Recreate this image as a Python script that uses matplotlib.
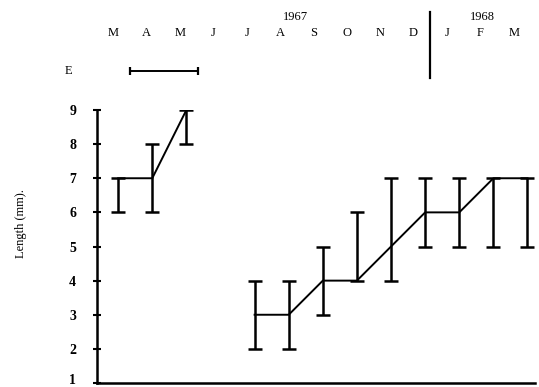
import numpy as np
import matplotlib.pyplot as plt
import matplotlib.transforms as mtransforms

plt.rcParams['font.family'] = ['Liberation Serif', 'DejaVu Serif']

months = ['M', 'A', 'M', 'J', 'J', 'A', 'S', 'O', 'N', 'D', 'J', 'F', 'M']
# month index (0 = March 1967) of each sample, June has none
month_idx = [0, 1, 2, 4, 5, 6, 7, 8, 9, 10, 11, 12]
length = [7, 7, 9, 3, 3, 4, 4, 5, 6, 6, 7, 7]
low = [6, 6, 8, 2, 2, 3, 4, 4, 5, 5, 5, 5]
high = [7, 8, 9, 4, 4, 5, 6, 7, 7, 7, 7, 7]
yticks = [1, 2, 3, 4, 5, 6, 7, 8, 9]

x = np.array(month_idx)
y = np.array(length)
yerr = [y - np.array(low), np.array(high) - y]

fig = plt.figure(figsize=(5.39, 3.87), dpi=100)
ax = fig.add_axes([97 / 539, 4 / 387, 438 / 539, 273 / 387])

# line broken where June is missing
first = x < 3
ax.plot(x[first], y[first], color='black', lw=1.4)
ax.plot(x[~first], y[~first], color='black', lw=1.4)
ax.errorbar(x, y, yerr=yerr, fmt='none', ecolor='black', elinewidth=1.8,
            capsize=4.7, capthick=1.8)

ax.set_xlim(-0.62, 12.22)
ax.set_ylim(1, 9)
ax.set_yticks(yticks)
ax.set_yticklabels([str(v) for v in yticks], fontsize=10, fontweight='bold')
ax.tick_params(axis='y', direction='inout', length=6, width=1.5, pad=12)
# lift the bottom "1" so it stays inside the picture
lbl = ax.get_yticklabels()[0]
lbl.set_transform(lbl.get_transform() +
                  mtransforms.ScaledTranslation(0, 3 / 72, fig.dpi_scale_trans))
ax.set_xticks([])
for s in ['top', 'right']:
    ax.spines[s].set_visible(False)
for s in ['left', 'bottom']:
    ax.spines[s].set_linewidth(1.8)

ax.set_ylabel('Length (mm).', fontsize=9)
ax.yaxis.set_label_coords(-0.16, 0.586)

# month labels above the plot
label_x = np.linspace(-0.15, 11.6, len(months))
for lx, m in zip(label_x, months):
    ax.text(lx, 11.26, m, ha='center', va='center', fontsize=9, clip_on=False)
ax.text(5.2, 11.73, '1967', ha='center', va='center', fontsize=9, clip_on=False)
ax.text(10.67, 11.73, '1968', ha='center', va='center', fontsize=9, clip_on=False)
ax.plot([9.15, 9.15], [9.94, 11.87], color='black', lw=1.6, clip_on=False)

# E period bar
ax.text(-1.47, 10.14, 'E', ha='center', va='center', fontsize=9, clip_on=False)
ax.errorbar([1.35], [10.14], xerr=[[1.0], [1.0]], fmt='none', ecolor='black',
            elinewidth=1.4, capsize=3, capthick=1.6, clip_on=False)

fig.savefig('out.png', dpi=100)
